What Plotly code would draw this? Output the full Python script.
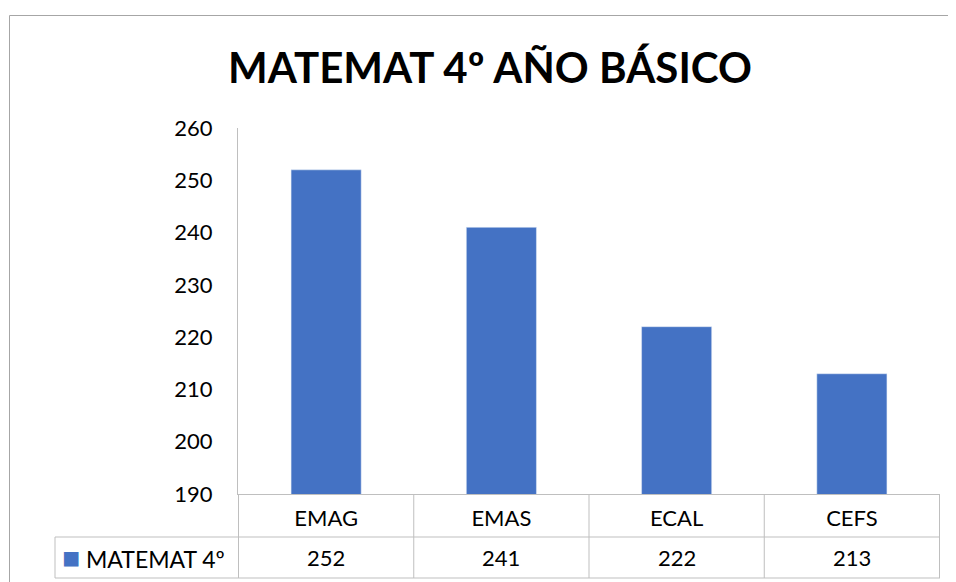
import plotly.graph_objects as go

categories = ["EMAG", "EMAS", "ECAL", "CEFS"]
values = [252, 241, 222, 213]
series_name = "MATEMAT 4º"
title_text = "MATEMAT 4º AÑO BÁSICO"
y_ticks = [190, 200, 210, 220, 230, 240, 250, 260]

# page body adds an 8px offset at top-left; the figure ends at the viewport edge
OFF = 8
W, H = 956 - OFF, 582 - OFF
L, R, T, B = 238 - OFF, 16, 128 - OFF, 88
pw, ph = W - L - R, H - T - B

def px_x(x):
    return (x - OFF - L) / pw

def px_y(y):
    return (H - B - (y - OFF)) / ph

FONT = "Lato"
BAR = "#4472C4"
GRID = "#BFBFBF"

fig = go.Figure()
fig.add_trace(go.Bar(x=categories, y=values, marker_color=BAR, name=series_name,
                     showlegend=False))

shapes = []
row_mid = px_y(537)
row_bot = px_y(578)
for i in range(len(categories) + 1):
    shapes.append(dict(type="line", xref="x", yref="paper", x0=i - 0.5, x1=i - 0.5,
                       y0=0, y1=row_bot, line=dict(color=GRID, width=1)))
shapes.append(dict(type="line", xref="paper", yref="paper", x0=px_x(55), x1=1,
                   y0=row_mid, y1=row_mid, line=dict(color=GRID, width=1)))
shapes.append(dict(type="line", xref="paper", yref="paper", x0=px_x(55), x1=1,
                   y0=row_bot, y1=row_bot, line=dict(color=GRID, width=1)))
shapes.append(dict(type="line", xref="paper", yref="paper", x0=px_x(55), x1=px_x(55),
                   y0=row_mid, y1=row_bot, line=dict(color=GRID, width=1)))
# outer chart border
shapes.append(dict(type="line", xref="paper", yref="paper", x0=px_x(9.5), x1=px_x(970),
                   y0=px_y(15.5), y1=px_y(15.5), line=dict(color="#A6A6A6", width=1)))
shapes.append(dict(type="line", xref="paper", yref="paper", x0=px_x(9.5), x1=px_x(9.5),
                   y0=px_y(15.5), y1=px_y(600), line=dict(color="#A6A6A6", width=1)))

annotations = []
for c, v in zip(categories, values):
    annotations.append(dict(x=c, xref="x", y=(row_mid + row_bot) / 2, yref="paper",
                            text=str(v), showarrow=False, xanchor="center", yanchor="middle",
                            font=dict(family=FONT, size=22, color="#000")))
annotations.append(dict(x=px_x(60), xref="paper", y=(row_mid + row_bot) / 2 + 0.005, yref="paper",
                        text=f"<span style='color:{BAR};font-size:30px'>■</span> {series_name}",
                        showarrow=False, xanchor="left", yanchor="middle",
                        font=dict(family=FONT, size=23, color="#000")))

fig.update_layout(
    width=W, height=H,
    margin=dict(l=L, r=R, t=T, b=B),
    paper_bgcolor="white", plot_bgcolor="white",
    title=dict(text=f"<b>{title_text}</b>", x=(490 - OFF) / W, xanchor="center",
               y=1 - (68 - OFF) / H, yanchor="middle",
               font=dict(family=FONT, size=42, color="#000")),
    bargap=0.6,
    shapes=shapes,
    annotations=annotations,
    xaxis=dict(showline=True, linecolor=GRID, linewidth=1, showgrid=False,
               ticks="", ticklabelstandoff=5,
               tickfont=dict(family=FONT, size=22, color="#000")),
    yaxis=dict(range=[190, 260], tickvals=y_ticks, showline=True, linecolor=GRID,
               linewidth=1, showgrid=False, zeroline=False, ticks="",
               ticklabelstandoff=20,
               tickfont=dict(family=FONT, size=22, color="#000")),
)

fig.write_html("out.html")
